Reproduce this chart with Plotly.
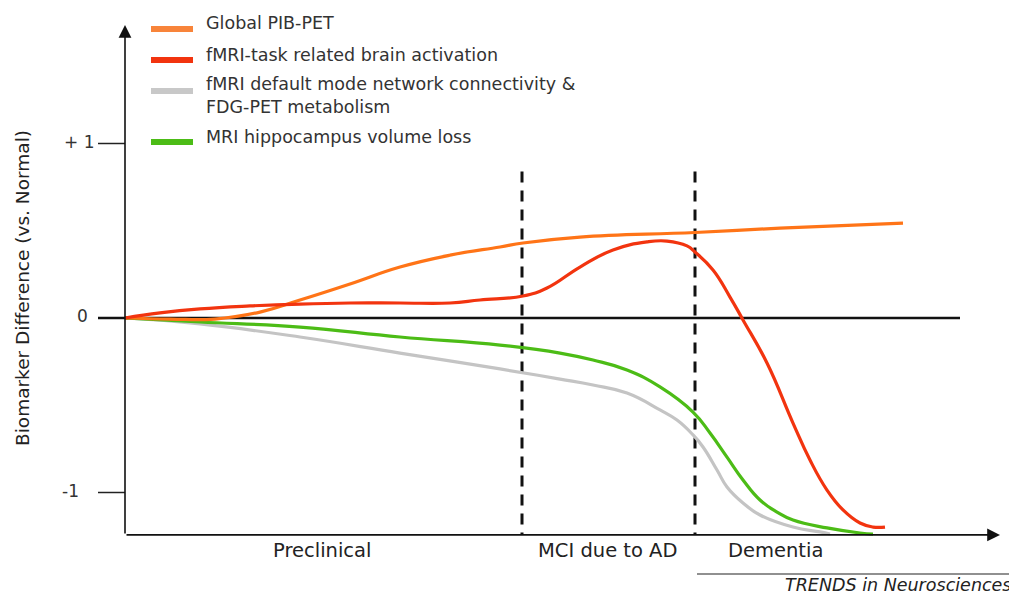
import plotly.graph_objects as go

# The page body has an 8px margin, so the figure is drawn 8px smaller and positions offset.
OFF = 8
W, H = 1017 - OFF, 594 - OFF

# ---- data (x: disease progression time units, y: biomarker difference vs normal) ----
pib_x = [0, 0.45, 0.9, 1.35, 1.75, 2.25, 2.75, 3.25, 3.75, 3.98, 4.55, 5.7, 6.55, 7.78]
pib_y = [0, -0.006, -0.006, 0.034, 0.103, 0.195, 0.292, 0.360, 0.407, 0.430, 0.464, 0.490, 0.515, 0.544]

task_x = [0, 0.35, 0.75, 1.25, 1.75, 2.25, 2.75, 3.25, 3.55, 3.98, 4.22, 4.55, 4.88, 5.22, 5.42,
          5.62, 5.70, 5.88, 6.05, 6.18, 6.42, 6.68, 6.85, 7.02, 7.18, 7.35, 7.48, 7.60]
task_y = [0, 0.029, 0.052, 0.069, 0.080, 0.086, 0.086, 0.086, 0.103, 0.126, 0.172, 0.292, 0.390, 0.436,
          0.441, 0.413, 0.378, 0.275, 0.120, -0.011, -0.258, -0.602, -0.814, -0.986, -1.100, -1.175,
          -1.198, -1.198]

dmn_x = [0, 0.75, 1.75, 2.75, 3.75, 4.35, 4.68, 5.02, 5.35, 5.52, 5.68, 5.78, 5.92, 6.02, 6.18, 6.35,
         6.68, 6.95, 7.05]
dmn_y = [0, -0.034, -0.109, -0.201, -0.292, -0.350, -0.384, -0.430, -0.527, -0.585, -0.670, -0.739,
         -0.871, -0.968, -1.060, -1.129, -1.198, -1.226, -1.238]

hip_x = [0, 0.75, 1.75, 2.75, 3.75, 4.35, 4.68, 5.02, 5.35, 5.68, 5.85, 6.02, 6.18, 6.35, 6.52, 6.68,
         7.02, 7.35, 7.48]
hip_y = [0, -0.023, -0.052, -0.109, -0.155, -0.201, -0.241, -0.298, -0.395, -0.539, -0.659, -0.797,
         -0.928, -1.043, -1.112, -1.158, -1.203, -1.232, -1.238]

stage_bounds = [3.97, 5.70]
stage_labels = ["Preclinical", "MCI due to AD", "Dementia"]
stage_label_x = [1.97, 4.82, 6.50]
y_ticks = [1, 0, -1]
y_tick_labels = ["+ 1", "0", "-1"]

legend_names = ["Global PIB-PET", "fMRI-task related brain activation",
                "fMRI default mode network connectivity &<br>FDG-PET metabolism",
                "MRI hippocampus volume loss"]
colors = ["#FF7417", "#F2340F", "#C4C4C4", "#4CBC16"]
legend_colors = ["#F8843A", "#F2340F", "#C8C8C8", "#4CBC16"]

# ---- axis geometry (data units) ----
X0, Y_BOTTOM, Y_TOP, X_END, ZERO_END = 0, -1.243, 1.679, 8.75, 8.35
XR = [(OFF - 125) / 100, (1017 - 125) / 100]
YR = [(318 - 594) / 174.5, (318 - OFF) / 174.5]

FONT = "DejaVu Sans, Verdana, sans-serif"


def px(xp):
    return (xp - OFF) / W


def py(yp):
    return 1 - (yp - OFF) / H


fig = go.Figure()
series = [(pib_x, pib_y), (task_x, task_y), (dmn_x, dmn_y), (hip_x, hip_y)]
order = [2, 3, 0, 1]
for i in order:
    xs, ys = series[i]
    fig.add_trace(go.Scatter(x=xs, y=ys, mode="lines",
                             line=dict(color=colors[i], width=3.2, shape="spline", smoothing=1.3),
                             name=legend_names[i], hoverinfo="skip"))

shapes = []
# zero line
shapes.append(dict(type="line", xref="x", yref="y", x0=-0.27, x1=ZERO_END, y0=0, y1=0,
                   line=dict(color="#111", width=2.5), layer="below"))
# ticks
for t in [1, -1]:
    shapes.append(dict(type="line", xref="x", yref="y", x0=-0.27, x1=0, y0=t, y1=t,
                       line=dict(color="#222", width=1.5)))
# stage boundaries
for b in stage_bounds:
    shapes.append(dict(type="line", xref="x", yref="y", x0=b, x1=b, y0=0.84, y1=Y_BOTTOM,
                       line=dict(color="#111", width=3, dash="11px,8px"), layer="below"))
# source rule
shapes.append(dict(type="line", xref="paper", yref="paper", x0=px(697), x1=px(1012),
                   y0=py(574), y1=py(574), line=dict(color="#222", width=1.2)))

annotations = []
# axes with arrows
annotations.append(dict(x=X0, y=Y_TOP, ax=X0, ay=Y_BOTTOM, xref="x", yref="y", axref="x", ayref="y",
                        text="", showarrow=True, arrowhead=2, arrowsize=1.6, arrowwidth=1.6,
                        arrowcolor="#111"))
annotations.append(dict(x=X_END, y=Y_BOTTOM, ax=X0, ay=Y_BOTTOM, xref="x", yref="y", axref="x",
                        ayref="y", text="", showarrow=True, arrowhead=2, arrowsize=1.6,
                        arrowwidth=1.6, arrowcolor="#111"))
# y tick labels (right edges differ slightly in the reference)
tick_label_right = [px(96), px(90), px(81)]
for t, lab, xr in zip(y_ticks, y_tick_labels, tick_label_right):
    annotations.append(dict(x=xr, y=t, xref="paper", yref="y", text=lab, showarrow=False,
                            xanchor="right", yanchor="middle", yshift=2,
                            font=dict(family=FONT, size=17, color="#333")))
# stage labels
for sx, lab in zip(stage_label_x, stage_labels):
    annotations.append(dict(x=sx, y=Y_BOTTOM, xref="x", yref="y", text=lab, showarrow=False,
                            xanchor="center", yanchor="top", yshift=-2,
                            font=dict(family=FONT, size=19.5, color="#222")))
# y axis title
annotations.append(dict(x=px(22), y=py(288), xref="paper", yref="paper",
                        text="Biomarker Difference (vs. Normal)", textangle=-90, showarrow=False,
                        xanchor="center", yanchor="middle",
                        font=dict(family=FONT, size=18.5, color="#222")))
# source
annotations.append(dict(x=px(1013), y=py(585), xref="paper", yref="paper",
                        text="<i>TRENDS in Neurosciences</i>", showarrow=False,
                        xanchor="right", yanchor="middle",
                        font=dict(family=FONT, size=17.5, color="#222")))

# manual legend
leg_swatch_y = [29, 60, 91, 142]
leg_text_y = [23, 55, 95, 137]
for i in range(4):
    sy = leg_swatch_y[i]
    shapes.append(dict(type="line", xref="paper", yref="paper", x0=px(151), x1=px(193),
                       y0=py(sy), y1=py(sy), line=dict(color=legend_colors[i], width=6)))
    annotations.append(dict(x=px(204), y=py(leg_text_y[i]), xref="paper", yref="paper",
                            text=legend_names[i], showarrow=False, xanchor="left",
                            yanchor="middle", align="left",
                            font=dict(family=FONT, size=17.5, color="#333")))

fig.update_layout(
    width=W, height=H, margin=dict(l=0, r=0, t=0, b=0),
    paper_bgcolor="white", plot_bgcolor="white", showlegend=False,
    xaxis=dict(range=XR, visible=False, fixedrange=True),
    yaxis=dict(range=YR, visible=False, fixedrange=True),
    shapes=shapes, annotations=annotations,
)

fig.write_html("out.html")
